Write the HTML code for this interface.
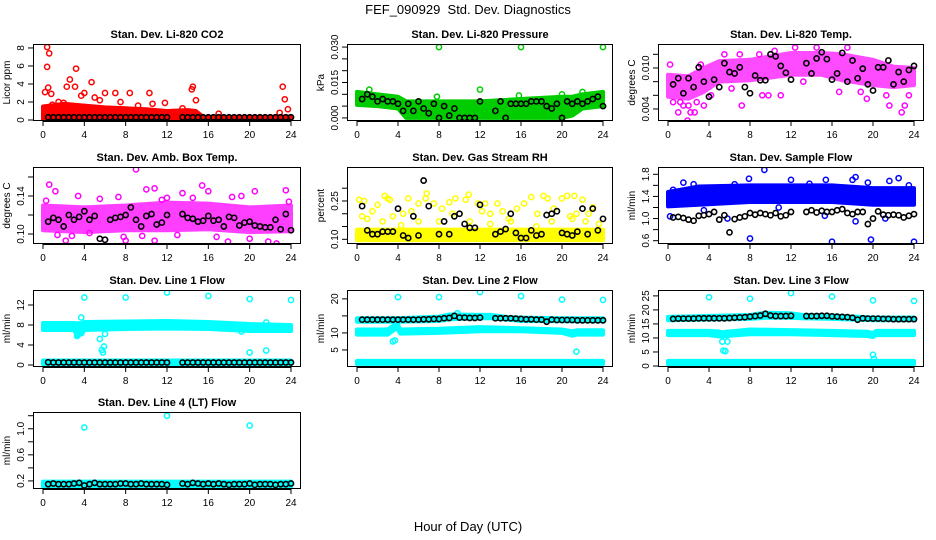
<!DOCTYPE html>
<html><head><meta charset="utf-8">
<style>
html,body{margin:0;padding:0;background:#fff;}
svg{display:block;font-family:"Liberation Sans",Arial,sans-serif;}
</style></head>
<body>
<svg id="chart" width="936" height="540" viewBox="0 0 936 540">
<text x="468" y="14" text-anchor="middle" font-size="13">FEF_090929&#160; Std. Dev. Diagnostics</text>
<text x="468" y="531" text-anchor="middle" font-size="13">Hour of Day (UTC)</text>
</svg>
<script>
// ---- shared data ----
const hours = [0.5,1,1.5,2,2.5,3,3.5,4,4.5,5,5.5,6,6.5,7,7.5,8,8.5,9,9.5,10,10.5,11,11.5,12,12.5,13,13.5,14,14.5,15,15.5,16,16.5,17,17.5,18,18.5,19,19.5,20,20.5,21,21.5,22,22.5,23,23.5,24];
const xTicks = [0,4,8,12,16,20,24];

// ---- panel 1: CO2 ----
const co2Black = [0.3,0.3,0.3,0.3,0.3,0.3,0.3,0.3,0.3,0.3,0.3,0.3,0.3,0.3,0.3,0.3,0.3,0.3,0.3,0.3,0.3,0.3,0.3,0.3,null,null,0.3,0.3,0.3,0.3,0.3,0.3,0.3,0.3,0.3,0.3,0.3,0.3,0.3,0.3,0.3,0.3,0.3,0.3,0.3,0.3,0.3,0.3];
const co2BandH = [0,2,4,6,8,10,12,14,14.8,15.5,20,24];
const co2BandLo = [0,0,0,0,0,0,0,0,0,0,0,0];
const co2BandHi = [1.5,1.8,1.6,1.4,1.3,1.2,1.0,1.1,1.0,0.35,0.3,0.4];
const co2PtH = [0.4,0.6,0.4,3.2,2.6,4.7,0.5,2.3,3.1,0.2,0.8,4.0,6.0,7.0,8.4,10.3,14.4,14.5,14.8,23.2,23.4,23.7,5.0,11.8,3.7,1.5,7.5,10.6,13.5,17,22.9,0.9,2.0,5.5,9.2];
const co2PtV = [8.1,7.4,5.9,5.7,4.5,4.2,3.6,3.7,3.7,3.1,2.9,3.0,3.0,3.0,3.0,3.0,3.4,3.7,2.2,3.7,2.3,1.2,2.5,1.9,2.7,2.0,2.0,1.8,1.3,0.7,0.8,1.7,1.9,2.2,1.6];

// ---- panel 2: pressure ----
const presBlack = [0.008,0.010,0.009,0.007,0.008,0.007,0.007,0.006,0.003,0.006,0.003,0.007,0.004,0.002,0.006,0.000,0.005,0.001,0.004,0.000,0.000,0.000,0.000,0.007,null,null,0.003,0.007,0.000,0.006,0.006,0.006,0.006,0.007,0.007,0.007,0.005,0.004,0.006,0.000,0.007,0.006,0.007,0.006,0.007,0.008,0.009,0.005];
const presBandH = [0,2,4,4.8,8,12,16,20,21,22,24];
const presBandLo = [0.0055,0.005,0.004,0.000,0.000,0.000,0.000,0.000,0.001,0.004,0.005];
const presBandHi = [0.011,0.010,0.009,0.007,0.007,0.007,0.008,0.009,0.009,0.010,0.011];
const presPtH = [8,16,24,12,1.2,7.8,15.8,20,22];
const presPtV = [0.030,0.030,0.030,0.012,0.012,0.009,0.0095,0.010,0.011];

// ---- panel 3: Li-820 temp ----
const ltBlack = [0.0076,0.0085,0.0063,0.0085,0.0072,0.0101,0.0080,0.0058,0.0083,0.0072,0.0107,0.0094,0.0092,0.0101,0.0072,0.0063,0.0089,0.0082,0.0082,0.0120,0.0117,0.0103,0.0093,0.0083,null,null,0.0107,0.0092,0.0114,0.0123,0.0113,0.0083,0.0092,0.0122,0.0080,0.0111,0.0085,0.0099,0.0076,0.0067,0.0101,0.0101,0.0111,0.0076,0.0094,0.0080,0.0097,0.0103];
const ltBandH = [0,2,3.5,5,8,12,15,17,20,22,24];
const ltBandLo = [0.0058,0.0055,0.0065,0.0080,0.0082,0.0090,0.0090,0.0082,0.0075,0.0072,0.0075];
const ltBandHi = [0.0090,0.0088,0.0100,0.0110,0.0112,0.0122,0.0122,0.0120,0.0112,0.0102,0.0100];
const ltPtH = [1.9,1.0,2.2,2.6,1.5,2.0,3.5,7.2,9.2,8.9,12.4,14.5,17.5,21.6,22.8,23.1,21.3,16.7,11.0,0.2,3.2,5.5,7.0,0.5,1.2,2.8,4.2,9.8,13.2,18.8,23.5,6.2,10.4,19.4];
const ltPtV = [0.0023,0.0035,0.0035,0.0035,0.0045,0.0045,0.0045,0.0045,0.0060,0.0120,0.0130,0.0130,0.0130,0.0045,0.0035,0.0045,0.0060,0.0065,0.0060,0.0105,0.0105,0.0120,0.0120,0.0050,0.0050,0.0050,0.0060,0.0060,0.0080,0.0065,0.0060,0.0070,0.0125,0.0055];

// ---- panel 4: amb box temp ----
const abBlack = [0.113,0.117,0.115,0.108,0.120,0.115,0.118,0.124,0.115,0.119,0.095,0.094,0.115,0.117,0.118,0.120,0.128,0.115,0.108,0.119,0.121,0.110,0.112,0.120,null,null,0.121,0.117,0.116,0.113,0.114,0.119,0.114,0.115,0.108,0.118,0.117,0.109,0.112,0.113,0.109,0.108,0.107,0.107,0.115,0.105,0.121,0.104];
const abBandH = [0,4,8,12,16,20,24];
const abBandLo = [0.104,0.102,0.104,0.104,0.105,0.102,0.103];
const abBandHi = [0.130,0.128,0.130,0.133,0.132,0.128,0.130];
const abPtH = [9,0.6,15.4,1.2,10,10.8,16,20.5,23.5,3.4,7.3,13.5,2.2,8,10.8,17.9,22.6,21.8,6,12,18.3,4.5,20,0.3,5.5,11.5,14.5,19.2,23.8,2.8,7.8,16.8,1.4,9.6,13];
const abPtV = [0.168,0.152,0.151,0.145,0.147,0.148,0.145,0.145,0.146,0.140,0.139,0.143,0.093,0.093,0.093,0.092,0.090,0.092,0.094,0.138,0.139,0.101,0.095,0.135,0.137,0.136,0.138,0.140,0.134,0.098,0.097,0.097,0.099,0.098,0.099];

// ---- panel 5: gas stream RH ----
const rhBlack = [0.23,0.135,0.12,0.12,0.13,0.13,0.13,0.22,0.115,0.105,0.19,0.115,0.33,0.23,null,0.12,0.17,0.12,0.19,0.2,0.16,0.145,0.145,0.235,null,null,0.12,0.13,0.14,0.2,0.125,0.105,0.105,0.135,0.115,0.12,0.195,0.2,0.21,0.125,0.12,0.115,0.13,0.22,0.12,0.22,0.135,0.18];
const rhBandH = [0,24];
const rhBandLo = [0.097,0.097];
const rhBandHi = [0.138,0.138];
const rhPtH = [0.2,0.7,1.5,2,2.7,3,3.2,3.5,4.5,5,5.3,6,6.7,6.8,7.5,8.3,9,9.6,10,10.6,10.9,11.8,12.5,13,13.7,14.2,15,15.6,16.3,17,17.6,18.2,18.6,19.2,20,20.5,21.2,21.4,22,22.6,23,23.6,1,2.5,6,11,15,19,21,8,13,4.3,17.5,0.5,9.3,12.2,14.8,20.8,22.3];
const rhPtV = [0.255,0.25,0.21,0.235,0.27,0.26,0.255,0.19,0.2,0.26,0.21,0.24,0.26,0.28,0.24,0.22,0.245,0.26,0.2,0.255,0.275,0.24,0.24,0.2,0.24,0.21,0.2,0.22,0.24,0.265,0.2,0.27,0.26,0.22,0.26,0.27,0.27,0.2,0.255,0.2,0.225,0.16,0.18,0.17,0.17,0.17,0.17,0.17,0.18,0.17,0.16,0.155,0.15,0.19,0.2,0.21,0.18,0.19,0.17];

// ---- panel 6: sample flow ----
const sfBlack = [1.02,1.03,1.01,0.98,0.96,1.05,1.06,1.08,1.12,0.98,1.06,0.75,0.99,1.02,1.04,1.1,1.07,1.1,1.08,1.06,1.1,1.04,1.06,1.12,null,null,1.12,1.15,1.11,1.14,1.12,1.12,1.15,1.17,1.1,1.08,1.12,1.12,0.9,1.0,1.13,1.07,1.06,1.07,1.06,1.02,1.05,1.08];
const sfBandH = [0,3,8,12,16,20,24];
const sfBandLo = [1.22,1.25,1.3,1.3,1.3,1.25,1.25];
const sfBandHi = [1.48,1.58,1.6,1.6,1.6,1.55,1.55];
const sfPtH = [9.4,1.5,7.9,12,15.4,18,18.3,22.5,19.5,21.6,8,16,24,0.2,5.8,15.3,18.3,21.2,0.5,3.5,10.8,19.8,2.5,6.5,13.8,23.5];
const sfPtV = [1.88,1.65,1.72,1.7,1.7,1.7,1.75,1.73,1.65,1.68,0.64,0.58,0.58,1.04,1.0,1.05,0.95,1.0,1.52,1.15,1.2,0.62,1.62,1.62,1.63,1.6];

// ---- panel 7: line 1 flow ----
const l1Black = [0.55,0.5,0.5,0.5,0.5,0.5,0.5,0.5,0.5,0.5,0.5,0.5,0.5,0.5,0.5,0.5,0.5,0.5,0.5,0.5,0.5,0.5,0.5,0.5,null,null,0.5,0.5,0.5,0.5,0.5,0.5,0.5,0.5,0.5,0.5,0.5,0.5,0.5,0.5,0.5,0.5,0.5,0.5,0.5,0.5,0.5,0.5];
const l1BandH = [0,3,3.3,3.8,4,8,12,16,20,24];
const l1BandLo = [7,7,5.8,6.2,7,7.2,7.3,7.2,6.8,6.8];
const l1BandHi = [8.4,8.4,8.3,8.4,8.6,8.7,8.8,8.6,8.2,8.0];
const l1Band2H = [0,24];
const l1Band2Lo = [0.2,0.2];
const l1Band2Hi = [0.9,0.9];
const l1PtH = [4,8,12,16,20,24,3.7,3.3,5.5,5.7,5.8,5.9,6,20,21.6,21.6,19.2];
const l1PtV = [13.5,13.5,14.5,13.8,13.2,13,9.5,5.8,5.2,3,2.5,3.7,6.2,2.5,2.9,8.5,6.7];

// ---- panel 8: line 2 flow ----
const l2Black = [13.9,13.9,13.9,13.9,13.9,13.9,13.9,13.9,13.9,13.9,13.9,13.9,14.0,14.0,14.1,14.1,14.3,14.4,15.0,14.5,14.5,14.4,14.4,14.5,null,null,14.3,14.3,14.3,14.3,14.2,14.1,14.0,14.0,13.9,13.9,13.3,13.9,13.8,13.8,13.8,13.8,13.7,13.7,13.7,13.7,13.7,13.7];
const l2BandH = [0,4,8,9,12,13,15,16,20,24];
const l2BandLo = [13.3,13.3,13.5,14,14.3,14.3,13.8,13.5,13.4,13.4];
const l2BandHi = [14.3,14.3,14.8,15.4,15.3,15.3,14.6,14.5,14.3,14.3];
const l2Band2H = [0,3,3.9,4.2,8,12,16,20,21,21.5,22,24];
const l2Band2Lo = [9.5,9.5,11.5,9.8,10,10.5,10.5,10,9.2,9.5,9.5,9.5];
const l2Band2Hi = [11,11,13,11,11.2,11.7,11.4,11,10.5,10.8,10.8,10.8];
const l2Band3H = [0,24];
const l2Band3Lo = [0.9,0.9];
const l2Band3Hi = [1.8,1.8];
const l2PtH = [4,8,12,16,20,24,3.5,3.7,3.9,4,21.4,9.8];
const l2PtV = [20.5,20.5,22,20.8,19.8,19.7,7.5,7.8,12.5,11.5,4.5,15.8];

// ---- panel 9: line 3 flow ----
const l3Black = [16.8,16.9,16.9,16.9,16.9,17.0,17.0,17.0,17.0,17.0,17.0,17.1,17.2,17.3,17.4,17.6,17.8,18.0,18.6,18.0,17.8,17.8,17.8,17.9,null,null,17.8,17.8,17.8,17.9,17.9,17.7,17.6,17.5,17.4,17.2,16.5,17.0,16.9,16.9,16.9,16.8,16.8,16.7,16.7,16.7,16.7,16.7];
const l3BandH = [0,8,9.5,12,13,16,20,24];
const l3BandLo = [16.3,16.8,17.2,17.2,17,16.8,16.3,16.3];
const l3BandHi = [17.5,18.2,19,18.8,18.3,18,17.3,17.3];
const l3Band2H = [0,4,5,5.3,5.8,6,8,12,16,19.5,20,20.3,24];
const l3Band2Lo = [11,11,10.5,10.5,10.5,10.8,11.3,11.3,11,10.7,10.3,11,11];
const l3Band2Hi = [12.5,12.5,12.3,12,12.3,12.3,13,12.8,12.5,12.2,11.8,12.5,12.5];
const l3Band3H = [0,24];
const l3Band3Lo = [0.6,0.6];
const l3Band3Hi = [1.8,1.8];
const l3PtH = [4,8,12,16,20,24,5.3,5.8,5.4,5.6,20,20.1];
const l3PtV = [24.5,24,26,24.8,23.4,23.2,8.7,8.7,5.5,5.3,4,2.5];

// ---- panel 10: line 4 flow ----
const l4Black = [0.15,0.16,0.15,0.15,0.15,0.16,0.17,0.13,0.15,0.17,0.15,0.15,0.15,0.15,0.16,0.16,0.15,0.15,0.16,0.15,0.15,0.15,0.15,0.14,null,null,0.16,0.15,0.17,0.16,0.15,0.16,0.15,0.16,0.15,0.14,0.15,0.15,0.15,0.16,0.14,0.15,0.15,0.15,0.14,0.15,0.15,0.16];
const l4BandH = [0,24];
const l4BandLo = [0.11,0.11];
const l4BandHi = [0.19,0.19];
const l4PtH = [4,12,20];
const l4PtV = [1.02,1.2,1.05];

// ---- y-axis tick values ----
const yTicks1=[0,2,4,6,8], yLab1=["0","2","4","6","8"];
const yTicks2=[0,0.005,0.010,0.015,0.020,0.025,0.030], yLab2=["0.000","","","0.015","","","0.030"];
const yTicks3=[0.004,0.006,0.008,0.010,0.012], yLab3=["0.004","","","0.010",""];
const yTicks4=[0.10,0.12,0.14,0.16], yLab4=["0.10","","0.14",""];
const yTicks5=[0.10,0.15,0.20,0.25,0.30], yLab5=["0.10","","","0.25",""];
const yTicks6=[0.6,0.8,1.0,1.2,1.4,1.6,1.8], yLab6=["0.6","","1.0","","1.4","","1.8"];
const yTicks7=[0,4,8,12], yLab7=["0","4","8","12"];
const yTicks8=[5,10,15,20], yLab8=["5","10","","20"];
const yTicks9=[0,5,10,15,20,25], yLab9=["0","5","10","15","20","25"];
const yTicks10=[0.2,0.4,0.6,0.8,1.0,1.2], yLab10=["0.2","","0.6","","1.0",""];

const NS="http://www.w3.org/2000/svg";
const svg=document.getElementById('chart');
function mk(tag,attrs,parent){const e=document.createElementNS(NS,tag);for(const k in attrs)e.setAttribute(k,attrs[k]);(parent||svg).appendChild(e);return e;}

const colX=[[33,301],[347,613],[658,924]];
const rowY=[[44,121],[167,244],[290,367],[412,489]];

const panels=[
 {key:'co2',title:'Stan. Dev. Li-820 CO2',ylab:'Licor ppm',col:0,row:0,ylim:[-0.11,8.44],color:'#ff0000',op:1,bands:[[co2BandH,co2BandLo,co2BandHi]],ptH:co2PtH,ptV:co2PtV,black:co2Black,yt:yTicks1,yl:yLab1},
 {key:'pressure',title:'Stan. Dev. Li-820 Pressure',ylab:'kPa',col:1,row:0,ylim:[-0.0013,0.0313],color:'#00cc00',op:1,bands:[[presBandH,presBandLo,presBandHi]],ptH:presPtH,ptV:presPtV,black:presBlack,yt:yTicks2,yl:yLab2},
 {key:'licor-temp',title:'Stan. Dev. Li-820 Temp.',ylab:'degrees C',col:2,row:0,ylim:[0.00224,0.01351],color:'#ff00ff',op:0.7,bands:[[ltBandH,ltBandLo,ltBandHi]],ptH:ltPtH,ptV:ltPtV,black:ltBlack,yt:yTicks3,yl:yLab3},
 {key:'box-temp',title:'Stan. Dev. Amb. Box Temp.',ylab:'degrees C',col:0,row:1,ylim:[0.0895,0.1705],color:'#ff00ff',op:0.75,bands:[[abBandH,abBandLo,abBandHi]],ptH:abPtH,ptV:abPtV,black:abBlack,yt:yTicks4,yl:yLab4},
 {key:'rh',title:'Stan. Dev. Gas Stream RH',ylab:'percent',col:1,row:1,ylim:[0.0816,0.383],color:'#ffff00',op:1,bands:[[rhBandH,rhBandLo,rhBandHi]],ptH:rhPtH,ptV:rhPtV,black:rhBlack,yt:yTicks5,yl:yLab5},
 {key:'sample-flow',title:'Stan. Dev. Sample Flow',ylab:'ml/min',col:2,row:1,ylim:[0.54,1.932],color:'#0000ff',op:1,bands:[[sfBandH,sfBandLo,sfBandHi]],ptH:sfPtH,ptV:sfPtV,black:sfBlack,yt:yTicks6,yl:yLab6},
 {key:'line1',title:'Stan. Dev. Line 1 Flow',ylab:'ml/min',col:0,row:2,ylim:[-0.4,15],color:'#00ffff',op:1,bands:[[l1BandH,l1BandLo,l1BandHi],[l1Band2H,l1Band2Lo,l1Band2Hi]],ptH:l1PtH,ptV:l1PtV,black:l1Black,yt:yTicks7,yl:yLab7},
 {key:'line2',title:'Stan. Dev. Line 2 Flow',ylab:'ml/min',col:1,row:2,ylim:[0,22.6],color:'#00ffff',op:1,bands:[[l2BandH,l2BandLo,l2BandHi],[l2Band2H,l2Band2Lo,l2Band2Hi],[l2Band3H,l2Band3Lo,l2Band3Hi]],ptH:l2PtH,ptV:l2PtV,black:l2Black,yt:yTicks8,yl:yLab8},
 {key:'line3',title:'Stan. Dev. Line 3 Flow',ylab:'ml/min',col:2,row:2,ylim:[-0.36,27.1],color:'#00ffff',op:1,bands:[[l3BandH,l3BandLo,l3BandHi],[l3Band2H,l3Band2Lo,l3Band2Hi],[l3Band3H,l3Band3Lo,l3Band3Hi]],ptH:l3PtH,ptV:l3PtV,black:l3Black,yt:yTicks9,yl:yLab9},
 {key:'line4',title:'Stan. Dev. Line 4 (LT) Flow',ylab:'ml/min',col:0,row:3,ylim:[0.076,1.257],color:'#00ffff',op:1,bands:[[l4BandH,l4BandLo,l4BandHi]],ptH:l4PtH,ptV:l4PtV,black:l4Black,yt:yTicks10,yl:yLab10}
];

panels.forEach(p=>{
  const [x0,x1]=colX[p.col], [y0,y1]=rowY[p.row];
  const g=mk('g',{});
  
  
  const xs=h=>x0+10+h*(x1-x0-20)/24;
  const ys=v=>y1-(v-p.ylim[0])/(p.ylim[1]-p.ylim[0])*(y1-y0);
  const clipId='clip-'+p.key;
  const cp=mk('clipPath',{id:clipId},g); mk('rect',{x:x0,y:y0,width:x1-x0,height:y1-y0},cp);
  const plot=mk('g',{'clip-path':'url(#'+clipId+')'},g);
  p.bands.forEach(b=>{
    const [bh,lo,hi]=b; let d='';
    bh.forEach((h,i)=>{d+=(i?'L':'M')+xs(h).toFixed(1)+','+ys(hi[i]).toFixed(1);});
    for(let i=bh.length-1;i>=0;i--) d+='L'+xs(bh[i]).toFixed(1)+','+ys(lo[i]).toFixed(1);
    const e=mk('path',{d:d+'Z',fill:p.color,stroke:p.color,'stroke-width':4,'stroke-linejoin':'round',opacity:p.op},plot);
    
    
  });
  p.ptH.forEach((h,i)=>{
    const c=mk('circle',{cx:xs(h),cy:ys(p.ptV[i]),r:2.6,fill:'none',stroke:p.color,'stroke-width':1.5},plot);
    
    
  });
  hours.forEach((h,i)=>{
    const v=p.black[i]; if(v===null) return;
    const c=mk('circle',{cx:xs(h),cy:ys(v),r:2.6,fill:'none',stroke:'#000','stroke-width':1.6},plot);
    
    
  });
  const box=mk('rect',{x:x0+0.5,y:y0+0.5,width:x1-x0-1,height:y1-y0-1,fill:'none',stroke:'#000','stroke-width':1},g);
  
  
  const t=mk('text',{x:(x0+x1)/2,y:y0-6,'text-anchor':'middle','font-size':11,'font-weight':'bold'},g);
  t.textContent=p.title;
  
  
  mk('line',{x1:xs(0),x2:xs(24),y1:y1+0.5,y2:y1+0.5,stroke:'#000'},g);
  xTicks.forEach(v=>{
    mk('line',{x1:xs(v),x2:xs(v),y1:y1,y2:y1+5,stroke:'#000'},g);
    const tl=mk('text',{x:xs(v),y:y1+17,'text-anchor':'middle','font-size':10},g);
    tl.textContent=v;
    
    
  });
  const ya=ys(p.yt[0]), yb=ys(p.yt[p.yt.length-1]);
  mk('line',{x1:x0+0.5,x2:x0+0.5,y1:ya,y2:yb,stroke:'#000'},g);
  p.yt.forEach((v,i)=>{
    const yy=ys(v);
    mk('line',{x1:x0-5,x2:x0,y1:yy,y2:yy,stroke:'#000'},g);
    if(p.yl[i]){
      const tl=mk('text',{x:x0-9,y:yy,'text-anchor':'middle','font-size':10,transform:'rotate(-90 '+(x0-9)+' '+yy+')'},g);
      tl.textContent=p.yl[i];
      
      
    }
  });
  const ym=(y0+y1)/2;
  const yl=mk('text',{x:x0-23,y:ym,'text-anchor':'middle','font-size':10,transform:'rotate(-90 '+(x0-23)+' '+ym+')'},g);
  yl.textContent=p.ylab;
  
  
});
</script>
</body></html>
